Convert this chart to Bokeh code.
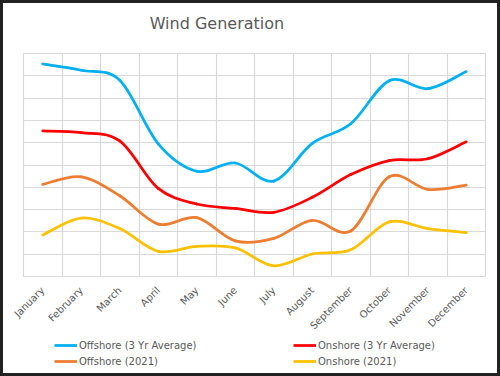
import math
from bokeh.plotting import figure
from bokeh.layouts import column
from bokeh.models import FixedTicker, Legend, LegendItem, Range1d, Label
from bokeh.embed import file_html
from bokeh.resources import INLINE

months = ["January", "February", "March", "April", "May", "June",
          "July", "August", "September", "October", "November", "December"]
offshore_avg = [9.53, 9.25, 8.80, 5.95, 4.72, 5.09, 4.28, 5.97, 6.85, 8.78, 8.42, 9.19]
onshore_avg = [6.53, 6.45, 6.08, 3.95, 3.25, 3.05, 2.88, 3.55, 4.57, 5.20, 5.28, 6.04]
offshore_2021 = [4.13, 4.47, 3.62, 2.35, 2.64, 1.60, 1.71, 2.52, 2.04, 4.47, 3.91, 4.10]
onshore_2021 = [1.86, 2.62, 2.15, 1.13, 1.35, 1.28, 0.48, 1.01, 1.20, 2.45, 2.15, 1.97]
chart_title = "Wind Generation"

series = [
    ("Offshore (3 Yr Average)", offshore_avg, "#00B0F0"),
    ("Onshore (3 Yr Average)", onshore_avg, "#FF0000"),
    ("Offshore (2021)", offshore_2021, "#ED7D31"),
    ("Onshore (2021)", onshore_2021, "#FFC000"),
]

FONT = "DejaVu Sans"
GRID = "#d9d9d9"
TEXT = "#595959"
LW = 2.75
W = 494


def strip(height):
    f = figure(width=W, height=height, output_backend="svg", toolbar_location=None,
               x_range=Range1d(0, 1), y_range=Range1d(0, 1),
               x_axis_location=None, y_axis_location=None,
               min_border=0, min_border_left=0, min_border_right=0,
               min_border_top=0, min_border_bottom=0)
    f.outline_line_color = None
    f.xgrid.visible = False
    f.ygrid.visible = False
    f.background_fill_color = "white"
    f.border_fill_color = "white"
    return f


# title strip
p0 = strip(47)
p0.add_layout(Label(x=0.273, y=0.585, text=chart_title, text_font=FONT,
                    text_font_size="16px", text_color=TEXT,
                    text_align="left", text_baseline="alphabetic"))

# main chart
p = figure(width=W, height=288, output_backend="svg", toolbar_location=None,
           x_range=Range1d(-0.5, 11.5), y_range=Range1d(0, 10),
           min_border_left=20, min_border_right=12, min_border_top=3,
           min_border_bottom=56)
p.background_fill_color = "white"
p.border_fill_color = "white"
p.outline_line_color = GRID
p.outline_line_width = 1.2

p.yaxis.visible = False
p.xaxis.ticker = FixedTicker(ticks=list(range(len(months))))
p.xaxis.major_label_overrides = {i: m for i, m in enumerate(months)}
p.xaxis.major_label_orientation = math.pi / 4
p.xaxis.major_label_text_font = FONT
p.xaxis.major_label_text_font_size = "10px"
p.xaxis.major_label_text_color = TEXT
p.xaxis.major_label_standoff = 6
p.xaxis.axis_line_color = None
p.xaxis.major_tick_line_color = None
p.xaxis.minor_tick_line_color = None

p.xgrid.ticker = FixedTicker(ticks=[i - 0.5 for i in range(len(months) + 1)])
p.ygrid.ticker = FixedTicker(ticks=list(range(11)))
for g in (p.xgrid, p.ygrid):
    g.grid_line_color = GRID
    g.grid_line_width = 1.2

n = len(months)
for label, vals, color in series:
    x0, y0, x1, y1, cx0, cy0, cx1, cy1 = ([] for _ in range(8))
    for i in range(n - 1):
        ip = max(i - 1, 0)
        inn = min(i + 2, n - 1)
        x0.append(i); y0.append(vals[i])
        x1.append(i + 1); y1.append(vals[i + 1])
        cx0.append(i + (i + 1 - ip) / 6.0)
        cy0.append(vals[i] + (vals[i + 1] - vals[ip]) / 6.0)
        cx1.append(i + 1 - (inn - i) / 6.0)
        cy1.append(vals[i + 1] - (vals[inn] - vals[i]) / 6.0)
    p.bezier(x0=x0, y0=y0, x1=x1, y1=y1, cx0=cx0, cy0=cy0, cx1=cx1, cy1=cy1,
             line_color=color, line_width=LW, line_cap="round")

# legend strip below the chart
p2 = strip(35)
items = []
for label, vals, color in series:
    r = p2.line(x=list(range(n)), y=vals, line_color=color, line_width=LW,
                visible=False)
    items.append(LegendItem(label=label, renderers=[r]))

legend = Legend(items=items, location=(31, 5), orientation="horizontal", ncols=2,
                glyph_width=23, glyph_height=14, label_height=14, label_width=212,
                label_standoff=2, spacing=2, padding=0, margin=0,
                label_text_font=FONT, label_text_font_size="10px",
                label_text_color=TEXT, border_line_color=None,
                background_fill_alpha=0, inactive_fill_alpha=0)
p2.add_layout(legend)

layout = column(p0, p, p2, spacing=0,
                styles={"position": "absolute", "left": "0px", "top": "0px",
                        "border": "3px solid #222222", "background": "white"})

open("out.html", "w").write(file_html(layout, INLINE))
